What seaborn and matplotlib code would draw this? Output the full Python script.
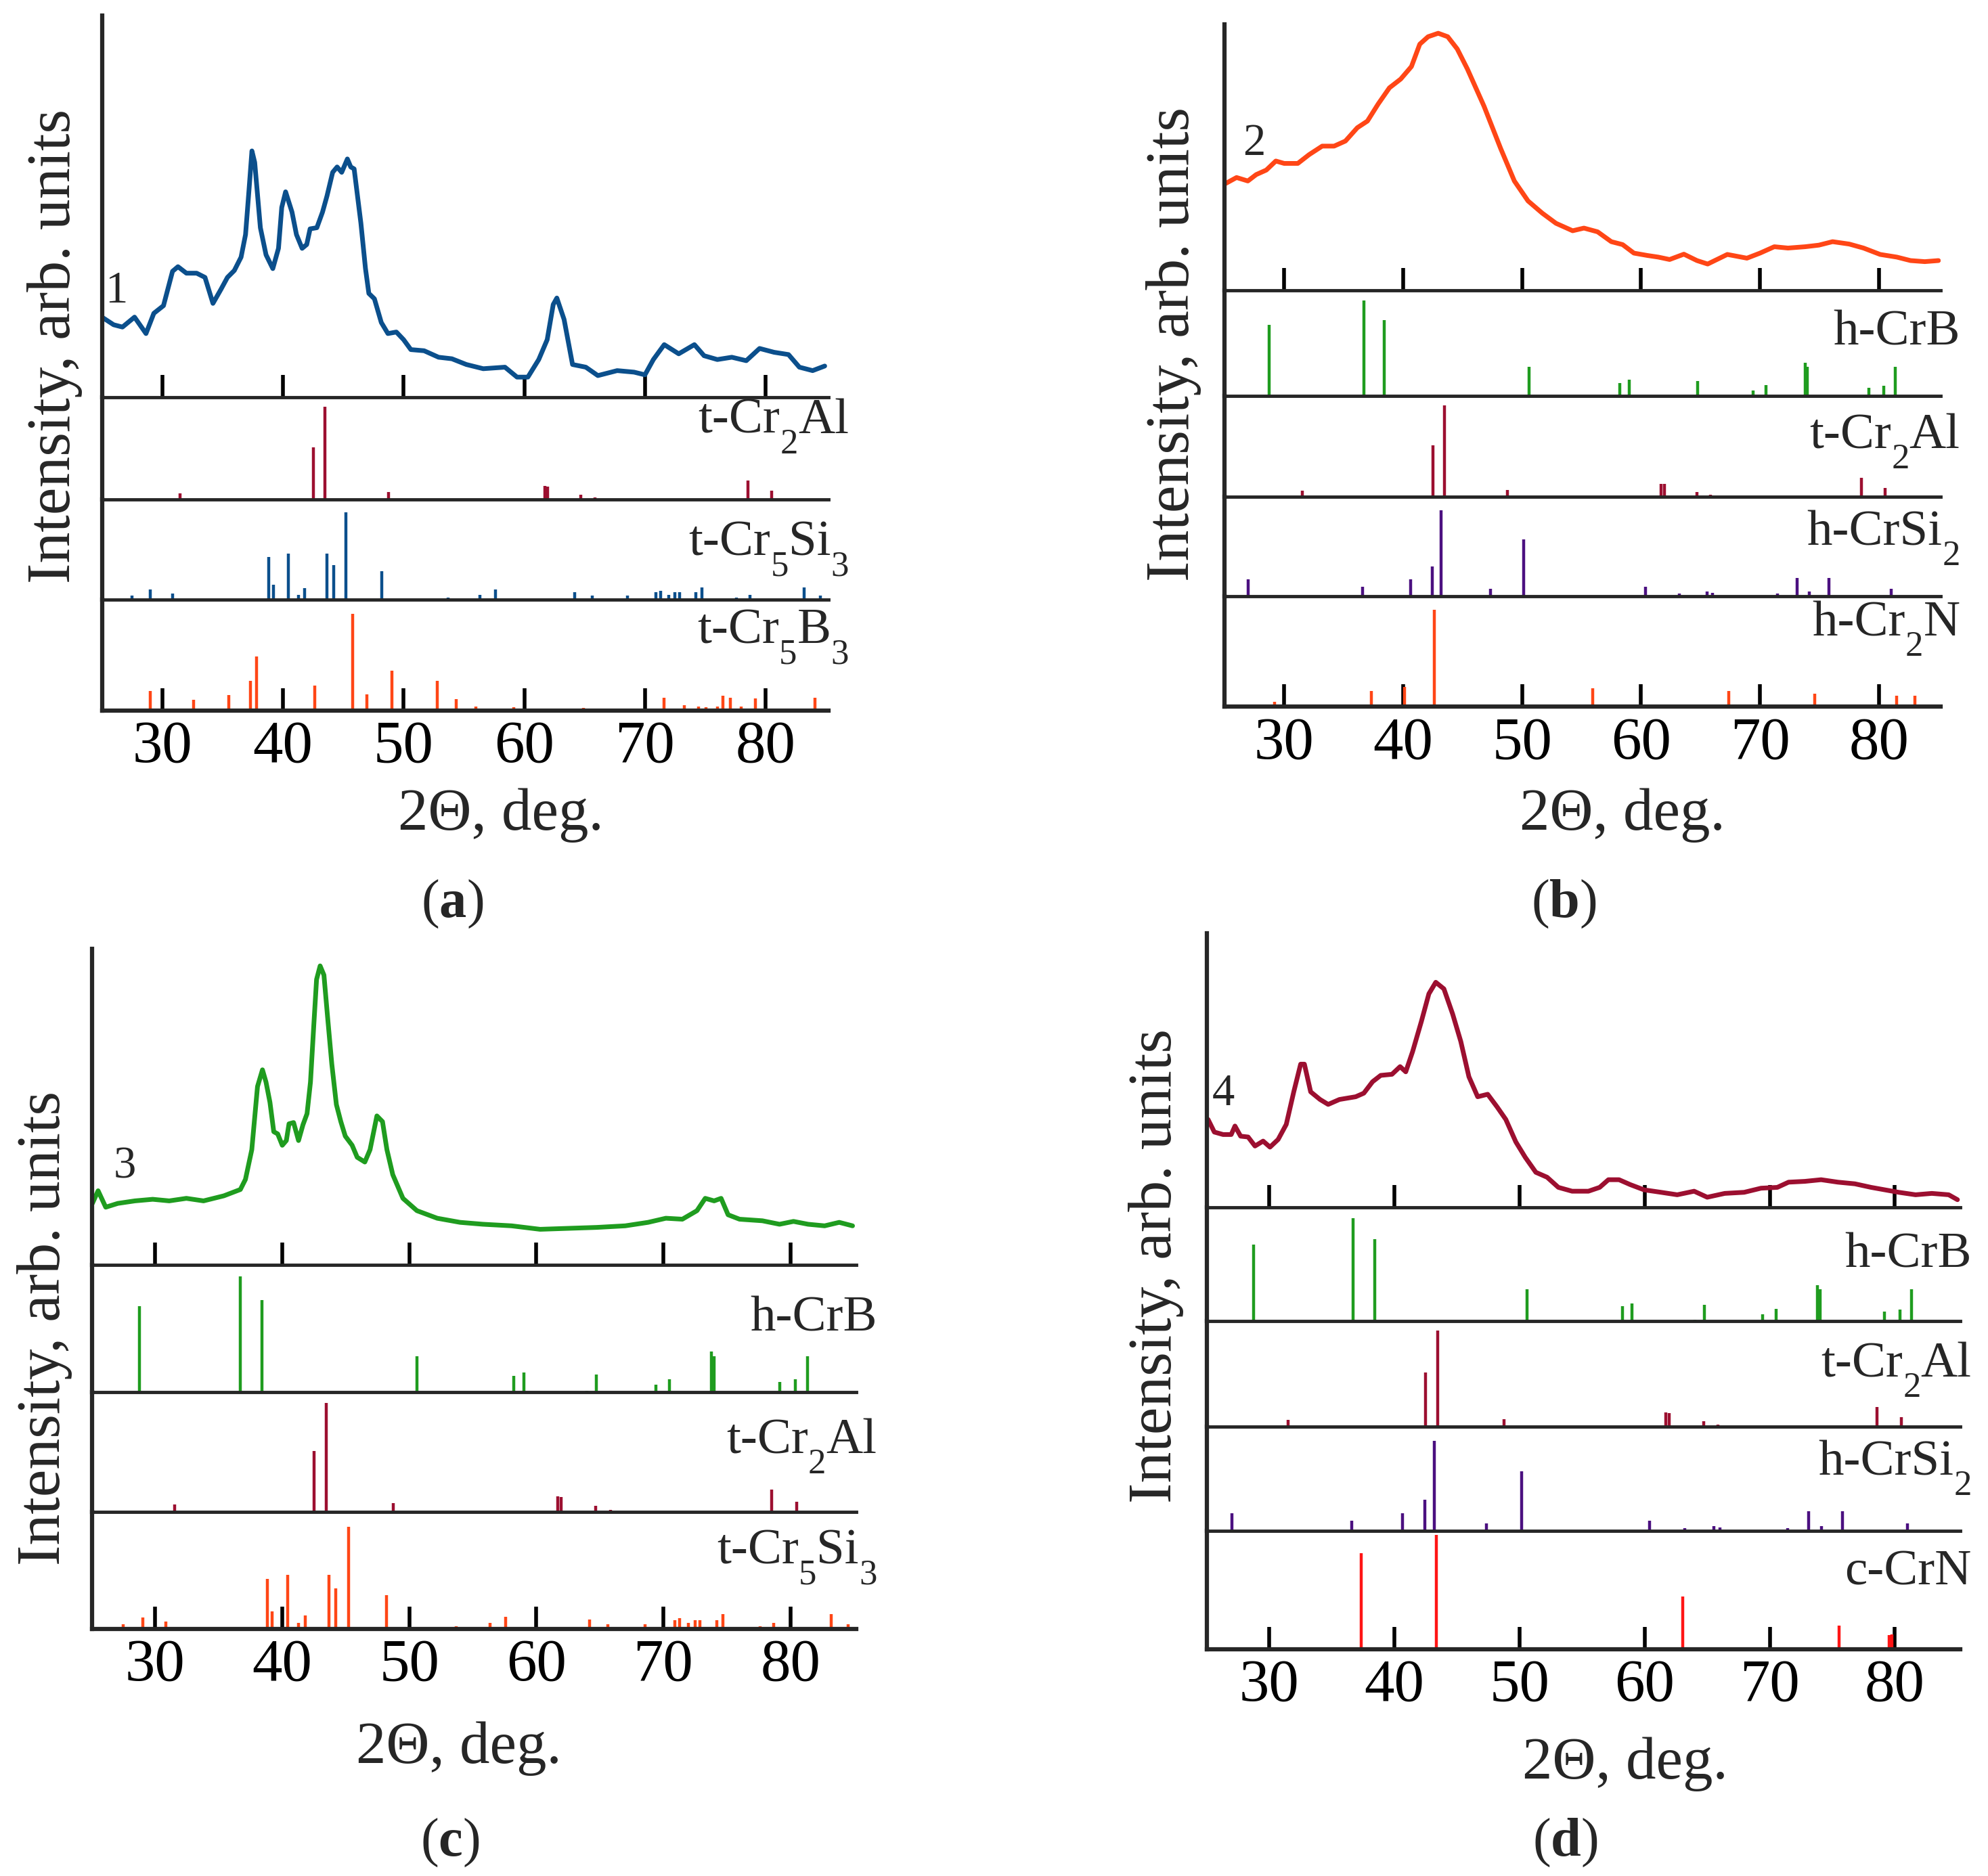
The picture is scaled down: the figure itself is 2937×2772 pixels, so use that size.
import matplotlib
matplotlib.use("Agg")
import matplotlib.pyplot as plt
import seaborn as sns

# measured patterns: 2theta (deg) and intensity scaled to the height of the top box
a_x = [25.0, 25.97, 26.7, 27.7, 28.65, 29.3, 30.1, 30.85, 31.3, 32.0, 32.85, 33.54, 34.2, 34.85, 35.4, 35.97,
       36.53, 36.9, 37.19, 37.43, 37.66, 38.13, 38.6, 39.16, 39.63, 39.9, 40.22, 40.75, 41.12, 41.59, 41.97, 42.25,
       42.81, 43.28, 43.65, 44.12, 44.49, 44.87, 45.34, 45.62, 45.9, 46.46, 46.84, 47.12, 47.58, 48.15, 48.7, 49.4,
       50.0, 50.6, 51.7, 52.9, 54.0, 55.2, 56.6, 58.4, 59.4, 60.3, 61.2, 61.9, 62.4, 62.7, 63.3, 64.0,
       65.1, 66.1, 67.7, 69.1, 70.0, 70.7, 71.6, 72.8, 74.1, 74.9, 76.0, 77.2, 78.4, 79.5, 80.7, 81.9,
       82.8, 83.9, 84.9]
a_y = [0.21, 0.19, 0.184, 0.21, 0.167, 0.22, 0.24, 0.33, 0.342, 0.325, 0.325, 0.314, 0.246, 0.282, 0.314, 0.332,
       0.367, 0.426, 0.544, 0.645, 0.615, 0.444, 0.373, 0.337, 0.39, 0.497, 0.538, 0.485, 0.426, 0.39, 0.40, 0.441,
       0.444, 0.485, 0.527, 0.589, 0.603, 0.589, 0.624, 0.603, 0.598, 0.456, 0.337, 0.272, 0.258, 0.196, 0.167, 0.171,
       0.151, 0.125, 0.122, 0.105, 0.101, 0.086, 0.075, 0.079, 0.053, 0.053, 0.099, 0.151, 0.243, 0.26, 0.204, 0.086,
       0.079, 0.057, 0.07, 0.066, 0.059, 0.099, 0.138, 0.114, 0.138, 0.109, 0.099, 0.105, 0.096, 0.128, 0.118, 0.112,
       0.079, 0.07, 0.082]

b_x = [25.1, 26.0, 26.95, 27.65, 28.5, 29.3, 30.0, 31.15, 32.1, 33.2, 34.2, 35.15, 36.15, 37.0, 37.9, 38.85,
       39.8, 40.7, 41.4, 42.1, 42.95, 43.75, 44.55, 45.4, 46.8, 48.2, 49.35, 50.5, 51.7, 52.85, 54.25, 55.2,
       56.35, 57.5, 58.45, 59.4, 60.55, 61.45, 62.4, 63.6, 64.7, 65.6, 67.25, 68.9, 70.0, 71.2, 72.35, 73.8,
       74.95, 76.1, 77.5, 78.7, 80.1, 81.5, 82.65, 83.85, 85.0]
b_y = [0.402, 0.424, 0.411, 0.435, 0.452, 0.486, 0.477, 0.477, 0.51, 0.542, 0.542, 0.561, 0.611, 0.636, 0.70, 0.761,
       0.794, 0.841, 0.925, 0.953, 0.966, 0.953, 0.907, 0.832, 0.692, 0.533, 0.411, 0.336, 0.29, 0.252, 0.224, 0.234,
       0.22, 0.183, 0.172, 0.14, 0.131, 0.125, 0.116, 0.136, 0.112, 0.099, 0.135, 0.121, 0.14, 0.164, 0.159, 0.164,
       0.17, 0.183, 0.174, 0.159, 0.135, 0.125, 0.112, 0.108, 0.112]

c_x = [25.05, 25.5, 26.1, 27.05, 28.4, 29.8, 31.1, 32.45, 33.8, 35.4, 36.7, 37.1, 37.6, 38.05, 38.44, 38.72,
       39.03, 39.33, 39.64, 40.0, 40.32, 40.53, 40.89, 41.28, 41.63, 41.95, 42.22, 42.48, 42.7, 42.98, 43.28, 43.55,
       43.9, 44.26, 44.61, 44.96, 45.5, 45.9, 46.5, 46.91, 47.45, 47.89, 48.24, 48.7, 49.5, 50.6, 52.2, 54.0,
       55.8, 58.05, 60.3, 62.5, 64.75, 67.0, 68.8, 70.2, 71.5, 72.65, 73.3, 74.0, 74.55, 75.1, 76.0, 77.8,
       79.15, 80.25, 81.4, 82.7, 83.85, 84.9]
c_y = [0.194, 0.234, 0.182, 0.194, 0.202, 0.207, 0.202, 0.21, 0.202, 0.218, 0.238, 0.27, 0.364, 0.564, 0.617, 0.578,
       0.514, 0.421, 0.414, 0.378, 0.393, 0.446, 0.45, 0.393, 0.443, 0.478, 0.578, 0.757, 0.903, 0.946, 0.917, 0.792,
       0.635, 0.507, 0.453, 0.407, 0.378, 0.34, 0.325, 0.364, 0.471, 0.453, 0.364, 0.285, 0.21, 0.171, 0.147, 0.134,
       0.128, 0.123, 0.112, 0.115, 0.118, 0.123, 0.134, 0.147, 0.144, 0.171, 0.21, 0.202, 0.21, 0.158, 0.144, 0.139,
       0.128, 0.137, 0.128, 0.123, 0.134, 0.123]

d_x = [25.1, 25.6, 26.3, 26.95, 27.25, 27.7, 28.3, 28.85, 29.5, 30.05, 30.7, 31.35, 31.95, 32.5, 32.8, 33.3,
       34.05, 34.7, 35.6, 36.9, 37.55, 38.25, 38.9, 39.8, 40.45, 40.9, 41.45, 42.15, 42.75, 43.3, 43.95, 44.65,
       45.3, 45.95, 46.65, 47.45, 48.2, 48.9, 49.7, 50.45, 51.3, 52.2, 53.1, 54.2, 55.5, 56.4, 57.1, 57.95,
       58.85, 59.95, 61.3, 62.6, 63.95, 65.0, 66.4, 67.95, 69.3, 70.6, 71.5, 72.8, 74.1, 75.45, 76.8, 78.1,
       79.2, 80.3, 81.65, 82.95, 84.3, 85.0]
d_y = [0.321, 0.275, 0.266, 0.266, 0.297, 0.26, 0.257, 0.224, 0.242, 0.22, 0.248, 0.303, 0.422, 0.523, 0.523, 0.422,
       0.394, 0.376, 0.394, 0.404, 0.417, 0.459, 0.482, 0.486, 0.514, 0.495, 0.569, 0.679, 0.78, 0.822, 0.798, 0.706,
       0.606, 0.477, 0.404, 0.413, 0.367, 0.321, 0.239, 0.183, 0.128, 0.11, 0.073, 0.059, 0.059, 0.073, 0.101, 0.101,
       0.083, 0.064, 0.055, 0.046, 0.059, 0.037, 0.051, 0.055, 0.07, 0.073, 0.092, 0.095, 0.101, 0.092, 0.086, 0.073,
       0.064, 0.055, 0.046, 0.051, 0.046, 0.028]

# reference stick patterns (position, relative height in its box)
cr2al_pos = [31.5, 42.5, 43.45, 48.75, 61.7, 61.95, 64.7, 65.85, 78.55, 80.5]
cr2al_int = [0.06, 0.51, 0.91, 0.07, 0.13, 0.125, 0.047, 0.018, 0.185, 0.085]

cr5si3_pos = [27.5, 29.0, 30.85, 38.8, 39.2, 40.45, 41.3, 41.8, 43.65, 44.2, 45.2, 48.2, 53.7, 56.35, 57.6,
              64.2, 65.65, 68.55, 70.9, 71.3, 71.95, 72.5, 72.9, 74.2, 74.7, 77.6, 78.7, 83.2, 84.55]
cr5si3_int = [0.04, 0.10, 0.063, 0.427, 0.148, 0.463, 0.052, 0.115, 0.463, 0.348, 0.872, 0.288, 0.022, 0.052, 0.103,
              0.079, 0.04, 0.04, 0.074, 0.09, 0.052, 0.074, 0.074, 0.074, 0.126, 0.025, 0.052, 0.126, 0.04]

cr5b3_pos = [29.0, 32.6, 35.5, 37.3, 37.8, 42.65, 45.75, 46.95, 49.05, 50.4, 52.8, 54.35, 56.0, 59.15, 64.9,
             71.6, 73.25, 74.45, 75.05, 76.0, 76.45, 77.1, 78.0, 79.15, 84.1]
cr5b3_int = [0.18, 0.096, 0.14, 0.27, 0.49, 0.225, 0.876, 0.15, 0.36, 0.02, 0.27, 0.105, 0.04, 0.03, 0.026,
             0.115, 0.05, 0.04, 0.03, 0.04, 0.135, 0.115, 0.04, 0.11, 0.115]

crb_pos = [28.75, 36.7, 38.4, 50.6, 58.2, 59.0, 64.0, 64.75, 69.4, 70.5, 73.8, 74.0, 79.15, 80.4, 81.35]
crb_int = [0.674, 0.907, 0.72, 0.28, 0.126, 0.153, 0.01, 0.14, 0.056, 0.102, 0.316, 0.28, 0.08, 0.10, 0.28]

crsi2_pos = [27.0, 36.6, 40.65, 42.45, 43.2, 47.35, 50.15, 60.4, 63.2, 65.55, 66.0, 71.45, 73.1, 74.15, 75.8, 81.0]
crsi2_int = [0.17, 0.095, 0.17, 0.295, 0.86, 0.07, 0.57, 0.095, 0.025, 0.045, 0.035, 0.025, 0.185, 0.045, 0.185, 0.07]

cr2n_pos = [29.2, 37.35, 40.1, 42.6, 43.4, 48.15, 55.95, 62.5, 67.35, 74.6, 81.5, 83.0]
cr2n_int = [0.045, 0.143, 0.18, 0.874, 0.02, 0.02, 0.17, 0.02, 0.143, 0.12, 0.10, 0.10]

crn_pos = [37.35, 43.35, 63.05, 75.55, 79.55, 79.75]
crn_int = [0.81, 0.966, 0.447, 0.20, 0.12, 0.128]

# phase names split into (text, is_subscript) pieces
CR2AL = [("t-Cr", False), ("2", True), ("Al", False)]
CR5SI3 = [("t-Cr", False), ("5", True), ("Si", False), ("3", True)]
CR5B3 = [("t-Cr", False), ("5", True), ("B", False), ("3", True)]
CRB = [("h-CrB", False)]
CRSI2 = [("h-CrSi", False), ("2", True)]
CR2N = [("h-Cr", False), ("2", True), ("N", False)]
CRN = [("c-CrN", False)]

BLUE = "#0b4f8c"
MAROON = "#9c0f30"
ORANGE = "#ff4616"
GREEN = "#1f9c1f"
PURPLE = "#4b1080"
RED = "#ff1515"

sns.set_style("white")
plt.rcParams["font.family"] = ["Liberation Serif", "DejaVu Serif"]
plt.rcParams["mathtext.fontset"] = "custom"
plt.rcParams["mathtext.rm"] = "Liberation Serif"
plt.rcParams["mathtext.bf"] = "Liberation Serif:bold"

W, H = 1560.0, 1473.0   # layout grid used below (scaled to the figure)
fig = plt.figure(figsize=(29.37, 27.72), dpi=100)
renderer = fig.canvas.get_renderer()
FIGW = fig.get_figwidth() * fig.dpi
ticks = [30, 40, 50, 60, 70, 80]


def fx(x):
    return x / W


def fy(y):
    return 1 - y / H


def phase_label(x_right, y_base, pieces):
    # lay the pieces out from the right edge leftwards
    x = fx(x_right)
    for text, sub in reversed(pieces):
        y = fy(y_base) - (30 / 2772 if sub else 0)
        t = fig.text(x, y, text, ha="right", va="baseline", fontsize=38 if sub else 54)
        x -= t.get_window_extent(renderer).width / FIGW


def draw_panel(left, right, top, bounds, cx, cy, ccolor, phases, num, num_xy, ylab_xy,
               xlab_xy, tag, tag_xy, lab_right):
    edges = [top] + bounds
    n = len(bounds)
    for i in range(n):
        y1, y0 = edges[i], edges[i + 1]
        ax = fig.add_axes([fx(left), fy(y0), fx(right - left), (y0 - y1) / H])
        ax.set_facecolor("none")
        if i == 0:
            sns.lineplot(x=cx, y=cy, ax=ax, color=ccolor, lw=5, estimator=None, sort=False)
        else:
            pieces, pos, inten, col, lab_y = phases[i - 1]
            ax.vlines(pos, 0, inten, colors=col, lw=3.2)
            phase_label(lab_right, lab_y, pieces)
        ax.set_xlim(25, 85.2)
        ax.set_ylim(0, 1)
        sns.despine(ax=ax, top=True, right=True)
        ax.spines["left"].set_linewidth(4.5)
        ax.spines["bottom"].set_linewidth(4.5 if i == n - 1 else 3.5)
        ax.set_yticks([])
        ax.set_xticks(ticks)
        ax.set_xticklabels([str(t) for t in ticks])
        ax.set_xlabel("")
        ax.set_ylabel("")
        if i == 0 or i == n - 1:
            ax.tick_params(axis="x", bottom=True, direction="in", length=24, width=4,
                           labelbottom=(i == n - 1), labelsize=64, pad=10, colors="black")
        else:
            ax.tick_params(axis="x", bottom=False, labelbottom=False)
    fig.text(fx(num_xy[0]), fy(num_xy[1]), num, ha="center", va="center", fontsize=48)
    fig.text(fx(ylab_xy[0]), fy(ylab_xy[1]), "Intensity, arb. units", rotation=90,
             ha="center", va="center", fontsize=66)
    fig.text(fx(xlab_xy[0]), fy(xlab_xy[1]), "2Θ, deg.", ha="center", va="center", fontsize=64)
    fig.text(fx(tag_xy[0]), fy(tag_xy[1]), tag, ha="center", va="center", fontsize=58)


draw_panel(80, 650, 12, [312, 392, 471, 558], a_x, a_y, BLUE,
           [(CR2AL, cr2al_pos, cr2al_int, MAROON, 340),
            (CR5SI3, cr5si3_pos, cr5si3_int, BLUE, 436),
            (CR5B3, cr5b3_pos, cr5b3_int, ORANGE, 505)],
           "1", (91, 229), (43, 272), (393, 640), r"($\mathbf{a}$)", (355, 710), 666)

draw_panel(961, 1523, 19, [228, 311, 390, 468, 555], b_x, b_y, ORANGE,
           [(CRB, crb_pos, crb_int, GREEN, 271),
            (CR2AL, cr2al_pos, cr2al_int, MAROON, 352),
            (CRSI2, crsi2_pos, crsi2_int, PURPLE, 428),
            (CR2N, cr2n_pos, cr2n_int, ORANGE, 499)],
           "2", (984, 113), (921, 270), (1273, 640), r"($\mathbf{b}$)", (1227, 710), 1538)

draw_panel(72, 672, 745, [993, 1093, 1187, 1279], c_x, c_y, GREEN,
           [(CRB, crb_pos, crb_int, GREEN, 1045),
            (CR2AL, cr2al_pos, cr2al_int, MAROON, 1141),
            (CR5SI3, cr5si3_pos, cr5si3_int, ORANGE, 1228)],
           "3", (98, 916), (35, 1043), (360, 1373), r"($\mathbf{c}$)", (353, 1447), 688)

draw_panel(947, 1538, 733, [948, 1037, 1120, 1202, 1295], d_x, d_y, MAROON,
           [(CRB, crb_pos, crb_int, GREEN, 995),
            (CR2AL, cr2al_pos, cr2al_int, MAROON, 1081),
            (CRSI2, crsi2_pos, crsi2_int, PURPLE, 1158),
            (CRN, crn_pos, crn_int, RED, 1244)],
           "4", (960, 859), (907, 994), (1275, 1385), r"($\mathbf{d}$)", (1228, 1447), 1547)

fig.savefig("out.png", dpi=100, facecolor="white")
